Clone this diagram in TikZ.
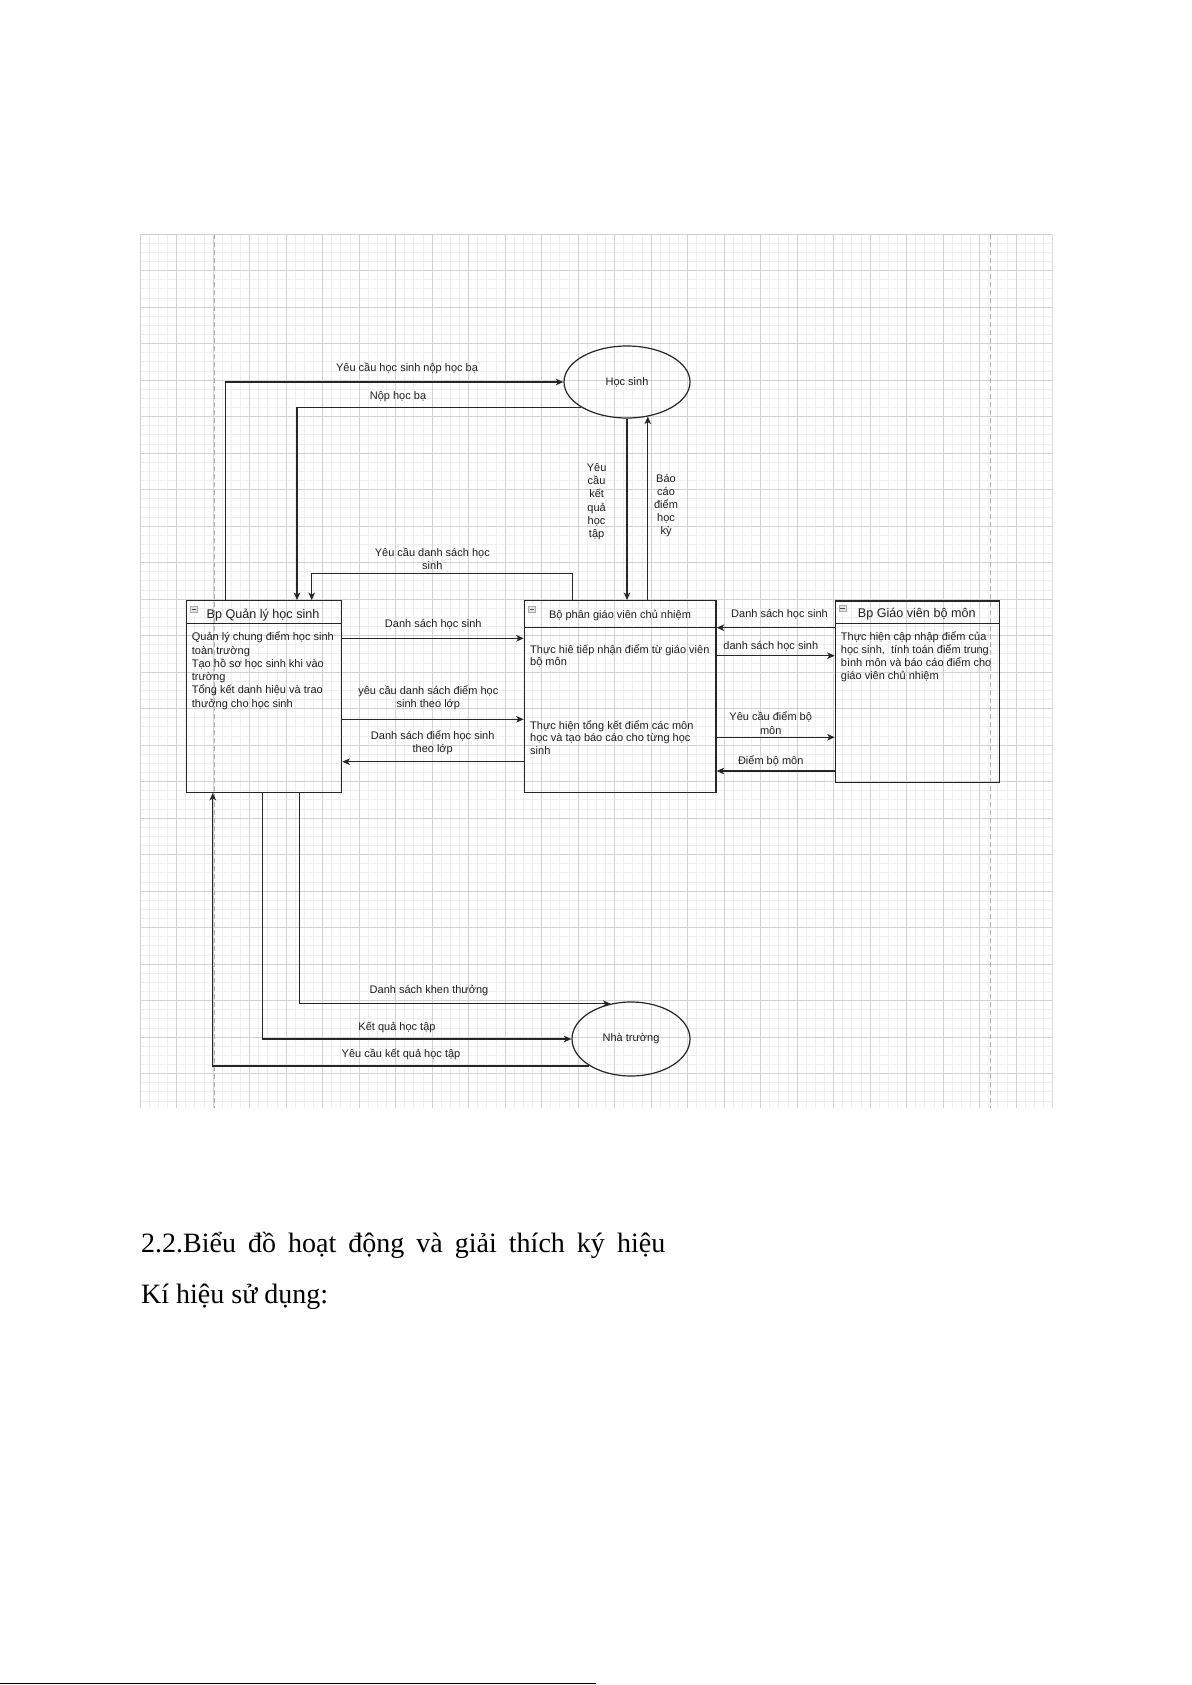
\documentclass[tikz,border=0pt]{standalone}
\usepackage{fontspec}
\setmainfont{Liberation Serif}
\newfontfamily\diagfont{Liberation Sans}
\usetikzlibrary{arrows.meta,shapes.geometric}
\definecolor{ink}{HTML}{262626}
\definecolor{txt}{HTML}{1E1E1E}
\definecolor{gminor}{HTML}{EFEFEF}
\definecolor{gmajor}{HTML}{D2D2D2}
\definecolor{gdash}{HTML}{B0B0B0}
\begin{document}
\begin{tikzpicture}[x=1pt,y=-1pt,
  line/.style={draw=ink,line width=1.3pt},
  arr/.style={line,-{Stealth[length=7.5pt,width=6.5pt,inset=2pt]}},
  box/.style={draw=ink,line width=1.2pt,rectangle,inner sep=0pt},
  ent/.style={draw=ink,line width=1.2pt,ellipse,inner sep=0pt,font=\diagfont\fontsize{11}{13}\selectfont,text=txt},
  lbl/.style={font=\diagfont\fontsize{11}{13.3}\selectfont,text=txt,inner sep=0pt,anchor=base,align=center},
  lblv/.style={font=\diagfont\fontsize{11}{13.1}\selectfont,text=txt,inner sep=0pt,anchor=base,align=center},
  ttl/.style={font=\diagfont\fontsize{12.6}{15}\selectfont,text=txt,inner sep=0pt,anchor=base},
  body/.style={font=\diagfont\fontsize{11}{13.3}\selectfont,text=txt,inner sep=0pt,anchor=base west,align=left},
  minorline/.style={draw=gminor,line width=0.6pt},
  majorline/.style={draw=gmajor,line width=0.9pt},
  icon/.style={rectangle,draw=gray!65,fill=gray!22,minimum width=7pt,minimum height=6.5pt,inner sep=0pt,
    path picture={\draw[gray!60!black,line width=0.8pt] ([xshift=1.3pt]path picture bounding box.west) -- ([xshift=-1.3pt]path picture bounding box.east);}},
  doctext/.style={font=\fontsize{28}{33}\selectfont,text=black,inner sep=0pt,anchor=base west}
]
\fill[white] (0,0) rectangle (1191,1685);
\useasboundingbox (0,0) rectangle (1191,1685);

% grid
\begin{scope}
\clip (140,234) rectangle (1052.5,1108);
\foreach \i in {0,...,100} \draw[minorline] ({140+\i*9.125},234) -- ({140+\i*9.125},1108);
\foreach \j in {0,...,96} \draw[minorline] (140,{234+\j*9.125}) -- (1052.5,{234+\j*9.125});
\foreach \i in {0,...,25} \draw[majorline] ({140+\i*36.5},234) -- ({140+\i*36.5},1108);
\foreach \j in {0,...,24} \draw[majorline] (140,{234+\j*36.5}) -- (1052.5,{234+\j*36.5});
\end{scope}
\draw[gdash,line width=1pt,dash pattern=on 5pt off 3pt] (214,234) -- (214,1108);
\draw[gdash,line width=1pt,dash pattern=on 5pt off 3pt] (990,234) -- (990,1108);

% entities
\node[ent,minimum width=126pt,minimum height=72pt] (hs) at (627,382) {Học sinh};
\node[ent,minimum width=118pt,minimum height=74pt] (nt) at (631,1039) {Nhà trường};

% boxes
\node[box,minimum width=155pt,minimum height=191.6pt] (ql) at (264.2,696.5) {};
\node[box,minimum width=191.7pt,minimum height=191.6pt] (cn) at (620.2,696.5) {};
\node[box,minimum width=164pt,minimum height=181.7pt] (bm) at (917.3,691.85) {};
\draw[line,line width=1.2pt] ([yshift=-23.3pt]ql.north west) -- ([yshift=-23.3pt]ql.north east);
\draw[line,line width=1.2pt] ([yshift=-27.6pt]cn.north west) -- ([yshift=-27.6pt]cn.north east);
\draw[line,line width=1.2pt] ([yshift=-23pt]bm.north west) -- ([yshift=-23pt]bm.north east);

\node[icon] (qli) at (194,609) {};
\node[icon] (cni) at (531.7,609) {};
\node[icon] (bmi) at (842.3,608.3) {};

\node[ttl] (qlt) at (263,618) {Bp Quản lý học sinh};
\node[lbl] (cnt) at (620,618.3) {Bộ phân giáo viên chủ nhiệm};
\node[ttl] (bmt) at (916.7,617.8) {Bp Giáo viên bộ môn};

% multi-line nodes: base = baseline of last line
\node[body] (qlb) at (191.7,707.2) {Quản lý chung điểm học sinh\\toàn trường\\Tạo hồ sơ học sinh khi vào\\trường\\Tổng kết danh hiệu và trao\\thưởng cho học sinh};
\node[body,font=\diagfont\fontsize{11}{12.5}\selectfont] (cnb1) at (530,665.8) {Thực hiê tiếp nhận điểm từ giáo viên\\bộ môn};
\node[body,font=\diagfont\fontsize{11}{12.8}\selectfont] (cnb2) at (530,754.6) {Thực hiện tổng kết điểm các môn\\học và tạo báo cáo cho từng học\\sinh};
\node[body,font=\diagfont\fontsize{11}{13}\selectfont] (bmb) at (840.7,679.7) {Thực hiện cập nhập điểm của\\học sinh,\ \ tính toán điểm trung\\bình môn và báo cáo điểm cho\\giáo viên chủ nhiệm};

% routing coordinates
\coordinate (xa) at (225.5,0);
\coordinate (xb) at (297,0);
\coordinate (xc) at (311.7,0);
\coordinate (kd) at (572.4,573.3);
\coordinate (xe) at (212.8,0);
\coordinate (xf) at (262.3,0);
\coordinate (xg) at (299.3,0);
\coordinate (l1) at (0,638.3);
\coordinate (l2) at (0,719.3);
\coordinate (l3) at (0,761.7);
\coordinate (r1) at (0,627.7);
\coordinate (r2) at (0,655.7);
\coordinate (r3) at (0,737.3);
\coordinate (r4) at (0,771);

% connectors
\draw[arr] (ql.north -| xa) |- (hs.west);
\draw[arr] (hs.209) -| (ql.north -| xb);
\draw[arr] (cn.north -| kd) -- (kd) -| (ql.north -| xc);
\draw[arr] (hs.south) -- (hs.south |- cn.north);
\draw[arr] (hs.301 |- cn.north) -- (hs.301);
\draw[arr] (ql.east |- l1) -- (cn.west |- l1);
\draw[arr] (ql.east |- l2) -- (cn.west |- l2);
\draw[arr] (cn.west |- l3) -- (ql.east |- l3);
\draw[arr] (bm.west |- r1) -- (cn.east |- r1);
\draw[arr] (cn.east |- r2) -- (bm.west |- r2);
\draw[arr] (cn.east |- r3) -- (bm.west |- r3);
\draw[arr] (bm.west |- r4) -- (cn.east |- r4);
\draw[arr] (ql.south -| xg) |- (nt.120);
\draw[arr] (ql.south -| xf) |- (nt.west);
\draw[arr] (nt.213) -| (ql.south -| xe);

% connector labels
\node[lbl] (t1) at (407,371) {Yêu cầu học sinh nộp học bạ};
\node[lbl] (t2) at (398,399) {Nộp học bạ};
\node[lbl] (t3) at (432.3,569.6) {Yêu cầu danh sách học\\sinh};
\node[lbl] (t4) at (433.3,627.3) {Danh sách học sinh};
\node[lbl] (t5) at (428.3,707.3) {yêu cầu danh sách điểm học\\sinh theo lớp};
\node[lbl] (t6) at (432.7,752.3) {Danh sách điểm học sinh\\theo lớp};
\node[lbl] (t7) at (779.5,617.3) {Danh sách học sinh};
\node[lbl] (t8) at (770.8,649.7) {danh sách học sinh};
\node[lbl] (t9) at (770.7,734) {Yêu cầu điểm bộ\\môn};
\node[lbl] (t10) at (770.7,764.7) {Điểm bộ môn};
\node[lbl] (t11) at (429,993) {Danh sách khen thưởng};
\node[lbl] (t12) at (397,1030) {Kết quả học tập};
\node[lbl] (t13) at (401,1057) {Yêu cầu kết quả học tập};
\node[lblv] (t14) at (596.6,537.2) {Yêu\\cầu\\kết\\quả\\học\\tập};
\node[lblv] (t15) at (666,534.7) {Báo\\cáo\\điểm\\học\\kỳ};

% document text
\node[doctext] (h1) at (141,1252) {\makebox[524pt][s]{2.2.Biểu đồ hoạt động và giải thích ký hiệu}};
\node[doctext] (h2) at (141,1303) {Kí hiệu sử dụng:};
\draw[black,line width=1.6pt] (0,1683.5) -- (596,1683.5);
\end{tikzpicture}
\end{document}
